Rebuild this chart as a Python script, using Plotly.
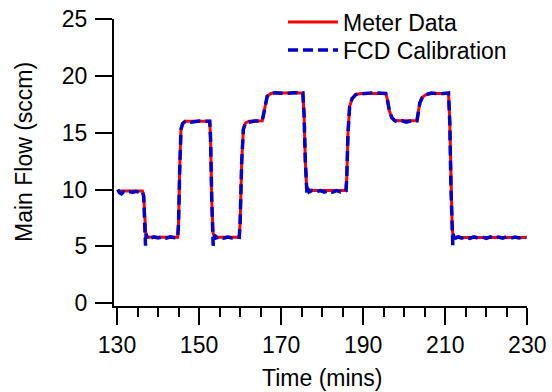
import plotly.graph_objects as go

# Meter Data (red solid)
meter_t = [130.2, 131.0, 133.0, 136.2, 136.5, 136.8, 137.0, 137.3, 138.0, 144.8,
           145.0, 145.3, 145.6, 146.0, 146.6, 152.6, 152.8, 153.1, 153.4, 153.8,
           154.5, 159.8, 160.0, 160.4, 160.8, 161.3, 162.2, 165.4, 165.7, 166.1,
           166.6, 167.5, 168.5, 175.3, 175.6, 175.9, 176.2, 176.6, 177.5, 185.8,
           186.0, 186.3, 186.7, 187.3, 188.2, 189.5, 195.5, 195.9, 196.4, 197.0,
           197.7, 198.5, 203.1, 203.4, 203.8, 204.4, 205.3, 206.6, 210.8, 211.1,
           211.4, 211.7, 212.0, 213.0, 229.8]
meter_v = [9.90, 9.86, 9.86, 9.86, 9.50, 7.50, 6.20, 5.85, 5.80, 5.80,
           7.00, 12.00, 15.30, 15.80, 16.00, 16.00, 14.50, 9.00, 6.20, 5.85,
           5.80, 5.80, 7.00, 12.50, 15.30, 15.85, 16.00, 16.05, 16.60, 17.60,
           18.20, 18.45, 18.50, 18.50, 16.50, 12.50, 10.30, 9.95, 9.92, 9.92,
           11.00, 15.00, 17.30, 18.00, 18.35, 18.45, 18.45, 17.90, 16.90, 16.30,
           16.10, 16.05, 16.05, 16.70, 17.60, 18.10, 18.35, 18.45, 18.45, 16.00,
           10.00, 6.50, 5.85, 5.78, 5.78]

# FCD Calibration (blue dashed)
fcd_t = [130.2, 130.6, 131.1, 131.6, 132.2, 133.0, 133.8, 134.6, 135.4, 136.2,
         136.5, 136.7, 136.85, 136.95, 137.1, 137.3, 137.6, 138.2, 139.0, 140.0,
         141.0, 142.0, 143.0, 144.0, 144.8, 145.0, 145.3, 145.6, 146.0, 146.6,
         148.0, 150.0, 152.6, 152.8, 153.1, 153.3, 153.45, 153.6, 153.8, 154.2,
         155.0, 156.0, 157.0, 158.0, 159.0, 159.8, 160.0, 160.4, 160.8, 161.3,
         162.2, 163.5, 165.4, 165.7, 166.1, 166.6, 167.5, 168.5, 171.0, 173.0,
         175.3, 175.6, 175.9, 176.15, 176.3, 176.5, 176.8, 177.5, 178.5, 179.5,
         180.5, 181.5, 182.5, 183.5, 184.5, 185.8, 186.0, 186.3, 186.7, 187.3,
         188.2, 189.5, 192.0, 195.5, 195.9, 196.4, 197.0, 197.7, 198.5, 199.5,
         200.5, 201.5, 203.1, 203.4, 203.8, 204.4, 205.3, 206.6, 209.0, 210.8,
         211.1, 211.4, 211.7, 211.85, 211.95, 212.1, 212.3, 212.6, 213.2, 214.0,
         215.0, 216.0, 217.0, 218.0, 219.0, 220.0, 221.0, 222.0, 223.0, 224.0,
         225.0, 226.0, 227.0, 228.0, 229.0, 229.8]
fcd_v = [10.00, 9.72, 9.62, 9.80, 9.70, 9.82, 9.74, 9.84, 9.76, 9.82,
         9.40, 7.60, 6.00, 5.05, 6.10, 5.75, 5.90, 5.72, 5.84, 5.74,
         5.82, 5.72, 5.84, 5.76, 5.80, 7.00, 12.00, 15.30, 15.80, 15.98,
         15.92, 16.02, 16.00, 14.50, 9.00, 6.00, 5.05, 5.40, 6.00, 5.75,
         5.84, 5.72, 5.82, 5.74, 5.84, 5.80, 7.00, 12.50, 15.30, 15.85,
         15.95, 16.02, 16.05, 16.60, 17.60, 18.20, 18.42, 18.52, 18.44, 18.52,
         18.50, 16.50, 12.50, 10.00, 9.60, 10.10, 9.78, 9.92, 9.78, 9.90,
         9.76, 9.88, 9.76, 9.90, 9.78, 9.90, 11.00, 15.00, 17.30, 18.00,
         18.35, 18.42, 18.50, 18.45, 17.90, 16.90, 16.30, 16.05, 15.92, 16.04,
         15.92, 16.02, 16.05, 16.70, 17.60, 18.10, 18.35, 18.48, 18.42, 18.50,
         16.00, 10.00, 6.50, 5.10, 6.10, 5.60, 5.85, 5.72, 5.84, 5.72,
         5.82, 5.70, 5.84, 5.72, 5.82, 5.70, 5.84, 5.72, 5.82, 5.72,
         5.84, 5.72, 5.82, 5.74, 5.84, 5.78]

x_tickvals = [130, 150, 170, 190, 210, 230]
y_tickvals = [0, 5, 10, 15, 20, 25]

FONT = "Arial, Liberation Sans, sans-serif"
W, H = 552, 392

fig = go.Figure()
fig.add_trace(go.Scatter(x=meter_t, y=meter_v, mode="lines", name="Meter Data",
                         line=dict(color="#ff0000", width=3), legend="legend"))
fig.add_trace(go.Scatter(x=fcd_t, y=fcd_v, mode="lines", name="FCD Calibration",
                         line=dict(color="#0000cc", width=3.5, dash="10px,5px"),
                         legend="legend2"))

leg_common = dict(xanchor="left", yanchor="middle", bgcolor="rgba(0,0,0,0)",
                  font=dict(size=23, color="black"), itemwidth=50)

fig.update_layout(
    width=W, height=H,
    margin=dict(l=0, r=0, t=0, b=0, pad=0),
    paper_bgcolor="white", plot_bgcolor="white",
    font=dict(family=FONT, size=23, color="black"),
    showlegend=True,
    legend=dict(x=283 / W, y=1 - 22 / H, **leg_common),
    legend2=dict(x=283 / W, y=1 - 50 / H, **leg_common),
    xaxis=dict(domain=[114 / W, 527.3 / W], range=[129.27, 230],
               tickvals=x_tickvals, ticks="outside",
               ticklen=17, tickwidth=2, tickcolor="black",
               showline=True, linecolor="black", linewidth=2,
               showgrid=False, zeroline=False, automargin=False,
               minor=dict(dtick=5, tick0=130, ticks="outside", ticklen=9,
                          tickwidth=2, tickcolor="black", showgrid=False),
               tickfont=dict(size=23)),
    yaxis=dict(domain=[1 - 306 / H, 1 - 19 / H], range=[-0.25, 25],
               tickvals=y_tickvals, ticks="outside",
               ticklen=17, tickwidth=2, tickcolor="black",
               showline=True, linecolor="black", linewidth=2,
               showgrid=False, zeroline=False, automargin=False,
               ticklabelstandoff=3, tickfont=dict(size=23)),
    annotations=[
        dict(text="Time (mins)", xref="paper", yref="paper", x=322 / W, y=1 - 378 / H,
             xanchor="center", yanchor="middle", showarrow=False,
             font=dict(size=23)),
        dict(text="Main Flow (sccm)", xref="paper", yref="paper", x=24 / W, y=1 - 152 / H,
             xanchor="center", yanchor="middle", textangle=-90, showarrow=False,
             font=dict(size=23)),
    ],
)

fig.write_html("out.html",
               config={"displayModeBar": False, "staticPlot": True},
               post_script="document.body.style.margin='0';document.body.style.padding='0';")
